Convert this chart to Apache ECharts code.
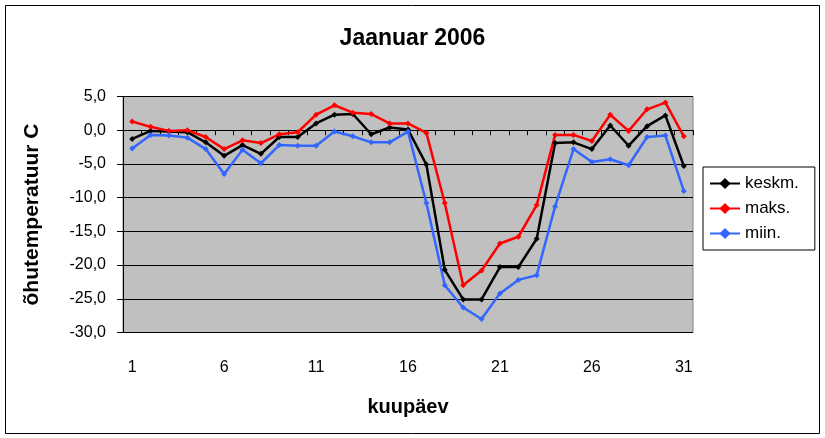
<!DOCTYPE html>
<html>
<head>
<meta charset="utf-8">
<script src="https://cdn.jsdelivr.net/npm/echarts@6/dist/echarts.min.js"></script>
<style>
    html, body { margin: 0; padding: 0; background: #fff; }
    #chart { width: 825px; height: 438px; }
</style>
</head>
<body>
<div id="chart"></div>
<script>
// DATA
const days = ['1','2','3','4','5','6','7','8','9','10','11','12','13','14','15','16',
    '17','18','19','20','21','22','23','24','25','26','27','28','29','30','31'];

const keskm = [-1.3, -0.1, -0.2, -0.3, -1.8, -3.8, -2.2, -3.5, -1.0, -1.0, 1.0, 2.3, 2.4, -0.6, 0.4, 0.1,
    -5.1, -20.7, -25.1, -25.1, -20.3, -20.3, -16.1, -1.9, -1.8, -2.8, 0.7, -2.3, 0.6, 2.2, -5.3];
const maks = [1.3, 0.5, -0.1, 0.0, -1.0, -2.8, -1.5, -1.9, -0.6, -0.3, 2.3, 3.7, 2.6, 2.4, 1.0, 1.0,
    -0.4, -10.8, -23.0, -20.8, -16.8, -15.8, -11.1, -0.7, -0.7, -1.6, 2.3, -0.1, 3.1, 4.1, -0.9];
const miin = [-2.7, -0.7, -0.8, -1.1, -2.8, -6.5, -2.9, -4.9, -2.2, -2.3, -2.3, -0.2, -0.9, -1.8, -1.8, -0.2,
    -10.8, -23.0, -26.3, -28.0, -24.2, -22.2, -21.5, -11.3, -2.8, -4.7, -4.3, -5.2, -1.0, -0.8, -9.0];

const seriesNames = ['keskm.', 'maks.', 'miin.'];
const seriesColors = ['#000000', '#ff0000', '#3366ff'];

const chart = echarts.init(document.querySelector('#chart'));

const font = 'Liberation Sans, Arial, sans-serif';

function makeSeries(name, data, color) {
    return {
        name: name,
        type: 'line',
        data: data,
        symbol: 'diamond',
        symbolSize: 6,
        showSymbol: true,
        lineStyle: { color: color, width: 2.5 },
        itemStyle: { color: color }
    };
}

const option = {
    animation: false,
    textStyle: { fontFamily: font },
    title: {
        text: 'Jaanuar 2006',
        left: 'center',
        top: 22,
        textStyle: { fontFamily: font, fontSize: 23, fontWeight: 'bold', color: '#000' }
    },
    // outer chart frame
    graphic: [
        {
            type: 'rect',
            shape: { x: 5.5, y: 5.5, width: 814, height: 428 },
            style: { fill: 'none', stroke: '#000', lineWidth: 1 },
            silent: true
        }
    ],
    legend: {
        orient: 'vertical',
        left: 703,
        top: 167,
        width: 100,
        padding: [8, 16, 8, 6],
        itemGap: 8,
        itemWidth: 30,
        itemHeight: 14,
        borderColor: '#000',
        borderWidth: 1,
        backgroundColor: '#fff',
        borderRadius: 0,
        data: seriesNames,
        textStyle: { fontFamily: font, fontSize: 17, color: '#000' }
    },
    grid: {
        left: 123,
        right: 132,
        top: 96.5,
        bottom: 105.5,
        show: true,
        backgroundColor: '#c0c0c0',
        borderColor: '#808080',
        borderWidth: 1
    },
    xAxis: {
        type: 'category',
        data: days,
        boundaryGap: true,
        name: 'kuupäev',
        nameLocation: 'middle',
        nameGap: 65,
        nameTextStyle: { fontFamily: font, fontSize: 20, fontWeight: 'bold', color: '#000' },
        axisLine: { lineStyle: { color: '#000', width: 1 } },
        axisTick: { show: true, interval: 0, length: 5, lineStyle: { color: '#000' } },
        axisLabel: { interval: 4, margin: 27, fontSize: 16, color: '#000', fontFamily: font },
        splitLine: { show: false }
    },
    yAxis: {
        type: 'value',
        min: -30,
        max: 5,
        interval: 5,
        name: 'õhutemperatuur C',
        nameLocation: 'middle',
        nameGap: 80,
        nameTextStyle: { fontFamily: font, fontSize: 21, fontWeight: 'bold', color: '#000' },
        axisLine: { show: true, lineStyle: { color: '#000', width: 1 } },
        axisTick: { show: true, length: 6, lineStyle: { color: '#000' } },
        axisLabel: {
            margin: 17,
            fontSize: 16,
            color: '#000',
            fontFamily: font,
            formatter: function (value) {
                return value.toFixed(1).replace('.', ',');
            }
        },
        splitLine: { show: true, lineStyle: { color: '#000', width: 1 } }
    },
    series: [
        makeSeries(seriesNames[0], keskm, seriesColors[0]),
        makeSeries(seriesNames[1], maks, seriesColors[1]),
        makeSeries(seriesNames[2], miin, seriesColors[2])
    ]
};

chart.setOption(option);
</script>
</body>
</html>
